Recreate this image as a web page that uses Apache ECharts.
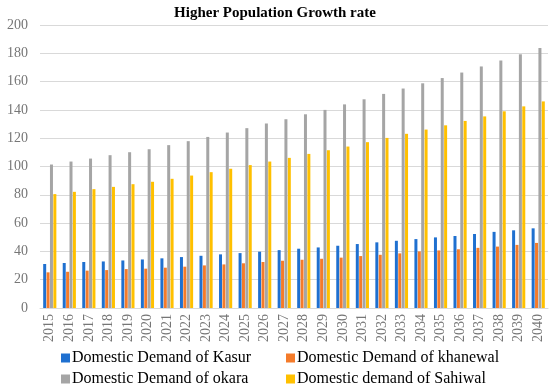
<!DOCTYPE html>
<html>
<head>
<meta charset="utf-8">
<script src="https://cdn.jsdelivr.net/npm/echarts@6/dist/echarts.min.js"></script>
<style>html,body{margin:0;padding:0;background:#fff}#c{width:550px;height:385px}</style>
</head>
<body>
<div id="c"></div>
<script>
var years = ['2015','2016','2017','2018','2019','2020','2021','2022','2023','2024','2025','2026','2027','2028','2029','2030','2031','2032','2033','2034','2035','2036','2037','2038','2039','2040'];
var kasur = [31.1,31.8,32.5,32.9,33.6,34.3,35.1,36.0,36.9,37.9,38.8,39.8,40.9,41.9,42.8,44.0,45.2,46.4,47.5,48.7,49.9,50.9,52.3,53.8,54.9,56.3];
var khanewal = [25.2,25.6,26.4,26.8,27.5,27.8,28.5,29.2,30.1,30.8,31.6,32.5,33.4,34.1,34.8,35.6,36.7,37.6,38.6,40.0,40.7,41.5,42.5,43.4,44.6,46.0];
var okara = [101.4,103.5,105.6,108.0,110.1,112.2,115.1,117.9,120.9,124.0,127.1,130.4,133.4,136.9,140.0,143.9,147.5,151.3,155.1,158.8,162.5,166.4,170.7,174.9,179.3,183.8];
var sahiwal = [80.5,82.1,84.0,85.6,87.5,89.2,91.3,93.6,96.0,98.4,101.0,103.5,106.1,108.9,111.5,114.1,117.2,120.2,123.1,126.1,129.1,132.2,135.4,139.0,142.5,146.0];
var names = ['Domestic Demand of Kasur','Domestic Demand of khanewal','Domestic Demand of okara','Domestic demand of Sahiwal'];
var colors = ['#1f70d0','#f47b2a','#a5a5a5','#ffc000'];
var values = [kasur, khanewal, okara, sahiwal];

var font = '"Liberation Serif", "Times New Roman", serif';
var legendPos = [[56,345],[281,345],[56,366],[281,366]];
var chart = echarts.init(document.getElementById('c'), null, {renderer:'canvas'});
chart.setOption({
  animation: false,
  title: {
    text: 'Higher Population Growth rate',
    left: 'center', top: 1,
    textStyle: {fontFamily: font, fontSize: 15, fontWeight: 'bold', color: '#000'}
  },
  legend: names.map(function(n,i){
    return {
      data: [n], left: legendPos[i][0], top: legendPos[i][1],
      icon: 'rect', itemWidth: 9, itemHeight: 9, itemGap: 0,
      textStyle: {fontFamily: font, fontSize: 16, color: '#000', padding: [0,0,0,-3]}
    };
  }),
  grid: {left: 40, right: 2, top: 25, bottom: 77, containLabel: false},
  xAxis: {
    type: 'category', data: years,
    axisLine: {lineStyle: {color: '#d9d9d9'}},
    axisTick: {show: false},
    axisLabel: {rotate: 90, color: '#767676', fontFamily: font, fontSize: 14, margin: 6, interval: 0}
  },
  yAxis: {
    type: 'value', min: 0, max: 200, interval: 20,
    axisLine: {show: false}, axisTick: {show: false},
    splitLine: {lineStyle: {color: '#d9d9d9'}},
    axisLabel: {color: '#767676', fontFamily: font, fontSize: 14, margin: 12}
  },
  series: names.map(function(n,i){
    return {
      name: n, type: 'bar', data: values[i],
      barWidth: 3, barGap: '13%',
      itemStyle: {color: colors[i]}
    };
  })
});
</script>
</body>
</html>
